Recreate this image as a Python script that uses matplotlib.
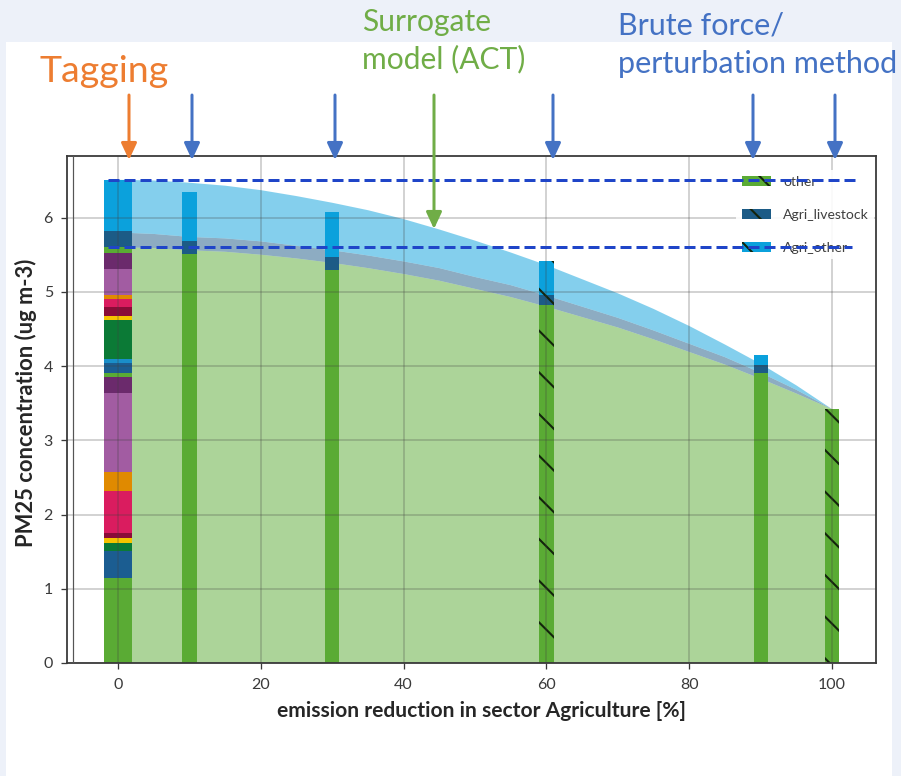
import matplotlib
matplotlib.use("Agg")
import matplotlib.pyplot as plt
from matplotlib.patches import Patch, Rectangle, FancyArrowPatch

DPI = 250
W, H = 901, 776


def pt(px):
    """Convert a length in output pixels to points."""
    return px * 72.0 / DPI


# ---- Surrogate model (ACT): stacked PM2.5 response vs. emission reduction ----
reduction = [0, 5, 10, 15, 20, 25, 30, 35, 40, 45, 50,
             55, 60, 65, 70, 75, 80, 85, 90, 95, 100]
act_other = [5.60, 5.59, 5.56, 5.54, 5.50, 5.45, 5.39, 5.32, 5.24, 5.15, 5.04,
             4.93, 4.80, 4.66, 4.52, 4.36, 4.19, 4.02, 3.83, 3.63, 3.42]
act_livestock = [0.20, 0.19, 0.18, 0.18, 0.18, 0.17, 0.17, 0.17, 0.17, 0.17, 0.16,
                 0.16, 0.15, 0.14, 0.13, 0.12, 0.11, 0.10, 0.08, 0.05, 0.00]
act_agri_other = [0.71, 0.72, 0.73, 0.71, 0.69, 0.67, 0.64, 0.61, 0.57, 0.52, 0.49,
                  0.44, 0.41, 0.37, 0.33, 0.29, 0.24, 0.17, 0.12, 0.06, 0.00]

# ---- Brute force / perturbation runs ----
bf_reduction = [10, 30, 60, 90, 100]
bf_other = [5.51, 5.30, 4.82, 3.90, 3.42]
bf_livestock = [0.18, 0.17, 0.14, 0.12, 0.00]
bf_agri_other = [0.65, 0.60, 0.45, 0.13, 0.00]
bf_hatched = [False, False, True, False, True]

# ---- Tagging: source contributions in the base case (stack, bottom to top) ----
GREEN = "#5aab34"
BLUE = "#1b5d91"
DKGREEN = "#0b7a36"
YELLOW = "#f5c400"
DKRED = "#8a0c38"
CRIMSON = "#da1c5f"
ORANGE = "#e08a00"
ORCHID = "#a25ca2"
DKPURPLE = "#6b2a6c"
CYAN = "#1a8ec8"
LIVESTOCK = "#1c5b86"
AGRI_OTHER = "#0ba1dc"

tag_values = [1.15, 0.36, 0.11, 0.07, 0.06, 0.57, 0.25, 1.07, 0.21,
              0.05, 0.14, 0.05, 0.53, 0.05, 0.13, 0.11, 0.05, 0.35, 0.22,
              0.07, 0.22, 0.69]
tag_colors = [GREEN, BLUE, DKGREEN, YELLOW, DKRED, CRIMSON, ORANGE, ORCHID, DKPURPLE,
              GREEN, BLUE, CYAN, DKGREEN, YELLOW, DKRED, CRIMSON, ORANGE, ORCHID, DKPURPLE,
              GREEN, LIVESTOCK, AGRI_OTHER]
agri_segments = 2  # the two top segments are the agriculture sources

legend_labels = ["other", "Agri_livestock", "Agri_other"]
legend_colors = [GREEN, LIVESTOCK, AGRI_OTHER]

x_ticks = [0, 20, 40, 60, 80, 100]
y_ticks = [0, 1, 2, 3, 4, 5, 6]

# ---- style ----
plt.rcParams["font.family"] = ["Lato", "DejaVu Sans"]
plt.rcParams["hatch.linewidth"] = 0.6
plt.rcParams["hatch.color"] = "#13240c"
HATCH = "\\\\"

OFF_ORANGE = "#ed7d31"
OFF_GREEN = "#70ad47"
OFF_BLUE = "#4472c4"
DASH_BLUE = "#1f45c8"

fig = plt.figure(figsize=(W / DPI, H / DPI), dpi=DPI, facecolor="#edf1f9")
fig.patches.append(Rectangle((6 / W, 0), (892 - 6) / W, (H - 42) / H,
                             transform=fig.transFigure, facecolor="white",
                             edgecolor="none", zorder=-1))

ax = fig.add_axes([67 / W, 1 - 663 / H, (876 - 67) / W, (663 - 156) / H])

# surrogate model response surface
ax.stackplot(reduction, act_other, act_livestock, act_agri_other,
             colors=legend_colors, alpha=0.5, linewidth=0)

# tagging stack at 0 %
bottom = 0.0
for v, c in zip(tag_values, tag_colors):
    ax.bar(0, v, width=4, bottom=bottom, color=c, linewidth=0)
    bottom += v
tag_total = bottom
tag_non_agri = sum(tag_values[:-agri_segments])

# brute force bars
for x, o, l, a, h in zip(bf_reduction, bf_other, bf_livestock, bf_agri_other, bf_hatched):
    hatch = HATCH if h else None
    ax.bar(x, o, width=2, color=GREEN, hatch=hatch, linewidth=0)
    ax.bar(x, l, width=2, bottom=o, color=LIVESTOCK, hatch=hatch, linewidth=0)
    ax.bar(x, a, width=2, bottom=o + l, color=AGRI_OTHER, hatch=hatch, linewidth=0)

ax.set_xlim(-7.15, 106.15)
ax.set_ylim(0, 6.83)
ax.set_xticks(x_ticks)
ax.set_yticks(y_ticks)
ax.set_axisbelow(False)
ax.grid(True, color="#404040", alpha=0.3, linewidth=pt(1.5))
ax.axvline(-6.25, color="#555555", linewidth=pt(1.2), zorder=3)

for s in ax.spines.values():
    s.set_color("#3a3a3a")
    s.set_linewidth(pt(1.8))

ax.tick_params(axis="both", labelsize=pt(16), labelcolor="#3a3a3a",
               color="#3a3a3a", length=pt(6), width=pt(1.3))
ax.tick_params(axis="y", pad=pt(8))
ax.tick_params(axis="x", pad=pt(9))

ax.set_xlabel("emission reduction in sector Agriculture [%]", fontsize=pt(21),
              fontweight="bold", color="#262626")
ax.set_ylabel("PM25 concentration (ug m-3)", fontsize=pt(22),
              fontweight="bold", color="#262626")
ax.xaxis.set_label_coords(0.512, -0.075)
ax.yaxis.set_label_coords(-0.037, 0.513)

handles = [Patch(facecolor=c, hatch=HATCH, label=lab)
           for c, lab in zip(legend_colors, legend_labels)]
leg = ax.legend(handles=handles, loc="upper left",
                bbox_to_anchor=(736 / W, 1 - 170 / H), bbox_transform=fig.transFigure,
                fontsize=pt(14), frameon=True, facecolor="white", edgecolor="none",
                framealpha=0.9, borderpad=0.4, borderaxespad=0,
                handlelength=2.1, handleheight=0.7, handletextpad=0.85,
                labelspacing=1.5, fancybox=False)
for t in leg.get_texts():
    t.set_color("#404040")

# reference levels of the tagging stack
ax.plot([-1.4, 103.5], [tag_total, tag_total], color=DASH_BLUE,
        linewidth=pt(3), linestyle=(0, (11 / 3, 5 / 3)), zorder=6, clip_on=False)
ax.plot([-1.4, 102.8], [tag_non_agri, tag_non_agri], color=DASH_BLUE,
        linewidth=pt(3), linestyle=(0, (11 / 3, 5 / 3)), zorder=6, clip_on=False)


# ---- method annotations ----
def arrow(xpx, top_px, tip_px, color):
    a = FancyArrowPatch((xpx / W, 1 - top_px / H), (xpx / W, 1 - tip_px / H),
                        transform=fig.transFigure, color=color,
                        arrowstyle=f"-|>,head_length={pt(14)},head_width={pt(6.5)}",
                        mutation_scale=1, linewidth=pt(3), shrinkA=0, shrinkB=0,
                        zorder=10)
    fig.add_artist(a)


arrow(129, 95, 160, OFF_ORANGE)
for xp in [192, 335, 553, 753, 835]:
    arrow(xp, 95, 160, OFF_BLUE)
arrow(434, 95, 229, OFF_GREEN)

note = dict(ha="left", va="baseline")
fig.text(40 / W, 1 - 82 / H, "Tagging", fontsize=pt(37.5), color=OFF_ORANGE, **note)
fig.text(362 / W, 1 - 31 / H, "Surrogate", fontsize=pt(30), color=OFF_GREEN, **note)
fig.text(362 / W, 1 - 68 / H, "model (ACT)", fontsize=pt(30), color=OFF_GREEN, **note)
fig.text(618 / W, 1 - 35 / H, "Brute force/", fontsize=pt(30.5), color=OFF_BLUE, **note)
fig.text(618 / W, 1 - 73 / H, "perturbation method", fontsize=pt(30.5), color=OFF_BLUE,
         **note)

fig.savefig("out.png", dpi=DPI, facecolor=fig.get_facecolor())
